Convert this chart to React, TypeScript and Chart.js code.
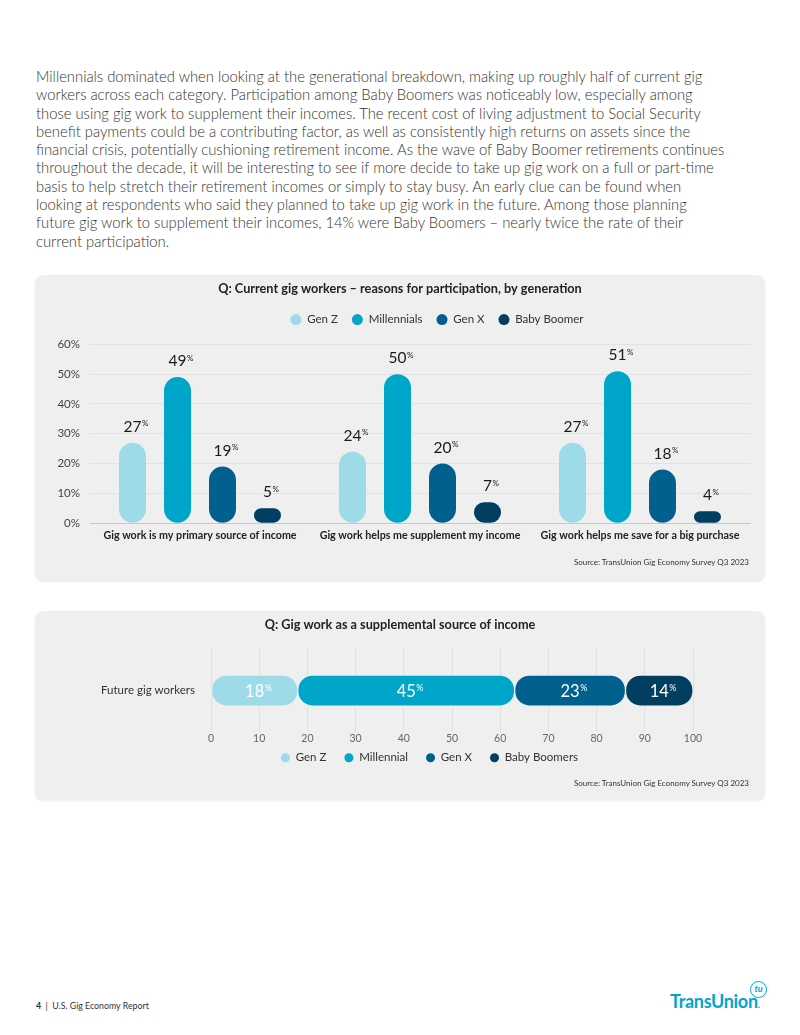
import React, { useEffect, useRef } from "react";
import { Chart, registerables } from "chart.js";

Chart.register(...registerables);

const FONT = "Lato, 'Noto Sans', sans-serif";
const PANEL_BG = "#efefef";

const paragraphLines = [
  "Millennials dominated when looking at the generational breakdown, making up roughly half of current gig",
  "workers across each category. Participation among Baby Boomers was noticeably low, especially among",
  "those using gig work to supplement their incomes. The recent cost of living adjustment to Social Security",
  "benefit payments could be a contributing factor, as well as consistently high returns on assets since the",
  "financial crisis, potentially cushioning retirement income. As the wave of Baby Boomer retirements continues",
  "throughout the decade, it will be interesting to see if more decide to take up gig work on a full or part-time",
  "basis to help stretch their retirement incomes or simply to stay busy. An early clue can be found when",
  "looking at respondents who said they planned to take up gig work in the future. Among those planning",
  "future gig work to supplement their incomes, 14% were Baby Boomers – nearly twice the rate of their",
  "current participation.",
];

// Chart 1 data
const reasonCategories = [
  "Gig work is my primary source of income",
  "Gig work helps me supplement my income",
  "Gig work helps me save for a big purchase",
];
const generationNames = ["Gen Z", "Millennials", "Gen X", "Baby Boomer"];
const genZShare = [27, 24, 27];
const millennialShare = [49, 50, 51];
const genXShare = [19, 20, 18];
const boomerShare = [5, 7, 4];
const reasonAxisMin = 0;
const reasonAxisMax = 60;
const reasonAxisStep = 10;

// Chart 2 data
const futureCategory = ["Future gig workers"];
const futureGenerationNames = ["Gen Z", "Millennial", "Gen X", "Baby Boomers"];
const futureShare = [18, 45, 23, 14];
const futureAxisMin = 0;
const futureAxisMax = 100;
const futureAxisStep = 10;

const generationColors = ["#9edbe9", "#00a6ca", "#02608e", "#023e5f"];

const pctLabelPlugin = {
  id: "pctLabels",
  afterDatasetsDraw(chart: any, _args: any, opts: any) {
    const { ctx } = chart;
    chart.data.datasets.forEach((ds: any, di: number) => {
      const meta = chart.getDatasetMeta(di);
      if (meta.hidden) return;
      meta.data.forEach((el: any, i: number) => {
        const num = String(ds.data[i]);
        ctx.save();
        ctx.font = `${opts.weight} ${opts.size}px ${FONT}`;
        const nw = ctx.measureText(num).width;
        let cx: number;
        let baseY: number;
        if (opts.mode === "above") {
          cx = el.x;
          baseY = el.y - opts.offset;
        } else {
          cx = (el.x + el.base) / 2;
          baseY = el.y + opts.size * 0.36;
        }
        ctx.fillStyle = opts.color;
        ctx.textAlign = "left";
        ctx.textBaseline = "alphabetic";
        ctx.fillText(num, cx - nw / 2, baseY);
        ctx.font = `${opts.weight} ${opts.supSize}px ${FONT}`;
        ctx.fillText("%", cx + nw / 2 + 0.5, baseY - 0.72 * (opts.size - opts.supSize));
        ctx.restore();
      });
    });
  },
};

const legendTweakPlugin = {
  id: "legendTweak",
  beforeInit(chart: any, _args: any, opts: any) {
    const legend = chart.legend;
    if (!legend) return;
    const origFit = legend.fit;
    legend.fit = function () {
      origFit.call(this);
      this.height += opts.extraHeight || 0;
    };
  },
  afterLayout(chart: any, _args: any, opts: any) {
    const legend = chart.legend;
    if (!legend) return;
    if (opts.dx) {
      legend.left += opts.dx;
      legend.right += opts.dx;
    }
    if (opts.dy) {
      legend.top += opts.dy;
      legend.bottom += opts.dy;
    }
  },
};

const noStrokeLabels = (chart: any) =>
  (Chart.defaults.plugins.legend.labels.generateLabels as any)(chart).map((l: any) => ({
    ...l,
    lineWidth: 0,
    strokeStyle: "rgba(0,0,0,0)",
  }));

function ReasonChart() {
  const ref = useRef<HTMLCanvasElement>(null);
  useEffect(() => {
    const series = [genZShare, millennialShare, genXShare, boomerShare];
    const chart = new Chart(ref.current as HTMLCanvasElement, {
      type: "bar",
      data: {
        labels: reasonCategories,
        datasets: series.map((vals, i) => ({
          label: generationNames[i],
          data: vals,
          backgroundColor: generationColors[i],
          borderWidth: 0,
          borderRadius: 14,
          borderSkipped: false,
          categoryPercentage: 0.818,
          barPercentage: 0.6,
        })),
      },
      options: {
        animation: false,
        responsive: false,
        devicePixelRatio: 1,
        layout: { padding: { left: 0, right: 0, top: 0, bottom: 33 } },
        plugins: {
          title: {
            display: true,
            text: "Q: Current gig workers – reasons for participation, by generation",
            color: "#222",
            font: { family: FONT, size: 12.7, weight: "bold" },
            padding: { top: 6, bottom: 3.6 },
          },
          legend: {
            display: true,
            position: "top",
            labels: {
              usePointStyle: true,
              pointStyle: "circle",
              pointStyleWidth: 11,
              boxHeight: 7.8,
              padding: 14,
              color: "#333",
              font: { family: FONT, size: 11.5 },
              generateLabels: noStrokeLabels,
            },
          },
          tooltip: { enabled: false },
          legendTweak: { dx: 37, dy: 0, extraHeight: 9 },
          pctLabels: { mode: "above", size: 15.5, supSize: 8, color: "#1a1a1a", offset: 11, weight: "normal" },
        } as any,
        scales: {
          x: {
            grid: { display: false, drawTicks: false },
            border: { display: true, color: "#c8c8c8" },
            ticks: {
              padding: 6,
              color: "#222",
              maxRotation: 0,
              autoSkip: false,
              font: { family: FONT, size: 10.7, weight: "bold" },
            },
          },
          y: {
            min: reasonAxisMin,
            max: reasonAxisMax,
            ticks: {
              stepSize: reasonAxisStep,
              padding: 10,
              color: "#444",
              font: { family: FONT, size: 11.5 },
              callback: (v: any) => v + "%",
            },
            grid: { color: "#e2e2e2", drawTicks: false },
            border: { display: false },
            afterFit: (s: any) => {
              s.width = 55;
            },
          },
          yPad: {
            type: "linear",
            position: "right",
            grid: { display: false, drawTicks: false },
            ticks: { display: false },
            border: { display: false },
            afterFit: (s: any) => {
              s.width = 15;
            },
          },
        } as any,
      },
      plugins: [pctLabelPlugin, legendTweakPlugin],
    } as any);
    return () => chart.destroy();
  }, []);
  return <canvas ref={ref} width={730} height={306} style={{ display: "block", width: 730, height: 306 }} />;
}

function FutureChart() {
  const ref = useRef<HTMLCanvasElement>(null);
  useEffect(() => {
    const chart = new Chart(ref.current as HTMLCanvasElement, {
      type: "bar",
      data: {
        labels: futureCategory,
        datasets: futureShare.map((v, i) => ({
          label: futureGenerationNames[i],
          data: [v],
          backgroundColor: generationColors[i],
          borderColor: PANEL_BG,
          borderWidth: 1,
          borderRadius: { topLeft: 15, topRight: 15, bottomLeft: 15, bottomRight: 15 },
          borderSkipped: false,
          barThickness: 31,
        })),
      },
      options: {
        indexAxis: "y",
        animation: false,
        responsive: false,
        devicePixelRatio: 1,
        layout: { padding: { left: 0, right: 0, top: 0, bottom: 15.8 } },
        plugins: {
          title: {
            display: true,
            text: "Q: Gig work as a supplemental source of income",
            color: "#222",
            font: { family: FONT, size: 12.7, weight: "bold" },
            padding: { top: 6, bottom: 16.8 },
          },
          legend: {
            display: true,
            position: "bottom",
            labels: {
              usePointStyle: true,
              pointStyle: "circle",
              pointStyleWidth: 9,
              boxHeight: 6.4,
              padding: 18,
              color: "#333",
              font: { family: FONT, size: 11.5 },
              generateLabels: noStrokeLabels,
            },
          },
          tooltip: { enabled: false },
          legendTweak: { dx: 29.5, dy: -10.7, extraHeight: 0 },
          pctLabels: { mode: "center", size: 16.5, supSize: 9, color: "#ffffff", weight: "normal" },
        } as any,
        scales: {
          x: {
            stacked: true,
            min: futureAxisMin,
            max: futureAxisMax,
            ticks: {
              stepSize: futureAxisStep,
              padding: 0,
              color: "#666",
              font: { family: FONT, size: 10.5 },
            },
            grid: { color: "#e0e0e0", drawTicks: false },
            border: { display: false },
          },
          y: {
            stacked: true,
            grid: { display: false, drawTicks: false },
            border: { display: false },
            ticks: { padding: 16, color: "#333", font: { family: FONT, size: 11.5 } },
            afterFit: (s: any) => {
              s.width = 176;
            },
          },
          yPad: {
            type: "linear",
            position: "right",
            grid: { display: false, drawTicks: false },
            ticks: { display: false },
            border: { display: false },
            afterFit: (s: any) => {
              s.width = 72;
            },
          },
        } as any,
      },
      plugins: [pctLabelPlugin, legendTweakPlugin],
    } as any);
    return () => chart.destroy();
  }, []);
  return <canvas ref={ref} width={730} height={189} style={{ display: "block", width: 730, height: 189 }} />;
}

const panelStyle: React.CSSProperties = {
  position: "absolute",
  left: 35,
  width: 730,
  background: PANEL_BG,
  borderRadius: 8,
  boxShadow: "0 1px 2px rgba(0,0,0,0.08)",
  overflow: "hidden",
};

const sourceStyle: React.CSSProperties = {
  position: "absolute",
  right: 16,
  fontFamily: FONT,
  fontSize: 8,
  color: "#333",
  lineHeight: "10px",
  whiteSpace: "nowrap",
};

export default function App() {
  return (
    <div
      style={{
        position: "absolute",
        left: 0,
        top: 0,
        width: 800,
        height: 1035,
        background: "#ffffff",
        overflow: "hidden",
      }}
    >
      <div
        style={{
          position: "absolute",
          left: 36,
          top: 67,
          fontFamily: FONT,
          fontSize: 14.8,
          fontWeight: 300,
          lineHeight: "18.3px",
          color: "#333",
          whiteSpace: "nowrap",
        }}
      >
        {paragraphLines.map((l, i) => (
          <div key={i}>{l}</div>
        ))}
      </div>

      <div style={{ ...panelStyle, top: 275, height: 306 }}>
        <ReasonChart />
        <div style={{ ...sourceStyle, top: 282 }}>Source: TransUnion Gig Economy Survey Q3 2023</div>
      </div>

      <div style={{ ...panelStyle, top: 611, height: 189 }}>
        <FutureChart />
        <div style={{ ...sourceStyle, top: 167 }}>Source: TransUnion Gig Economy Survey Q3 2023</div>
      </div>

      <div
        style={{
          position: "absolute",
          left: 36,
          top: 1000,
          fontFamily: FONT,
          fontSize: 8.8,
          color: "#333",
          lineHeight: "12px",
          whiteSpace: "nowrap",
        }}
      >
        <b>4</b>&nbsp;&nbsp;|&nbsp;&nbsp;U.S. Gig Economy Report
      </div>

      <div
        style={{
          position: "absolute",
          left: 670,
          top: 991,
          fontFamily: FONT,
          fontSize: 18,
          fontWeight: 700,
          color: "#00a6ca",
          lineHeight: "20px",
          letterSpacing: -0.3,
          whiteSpace: "nowrap",
        }}
      >
        TransUnion
        <span style={{ fontSize: 10 }}>.</span>
      </div>
      <div
        style={{
          position: "absolute",
          left: 750,
          top: 981,
          width: 15,
          height: 15,
          borderRadius: "50%",
          border: "1.5px solid #00a6ca",
          color: "#00a6ca",
          fontFamily: FONT,
          fontSize: 9,
          fontWeight: 700,
          fontStyle: "italic",
          lineHeight: "14px",
          textAlign: "center",
        }}
      >
        tu
      </div>
    </div>
  );
}
